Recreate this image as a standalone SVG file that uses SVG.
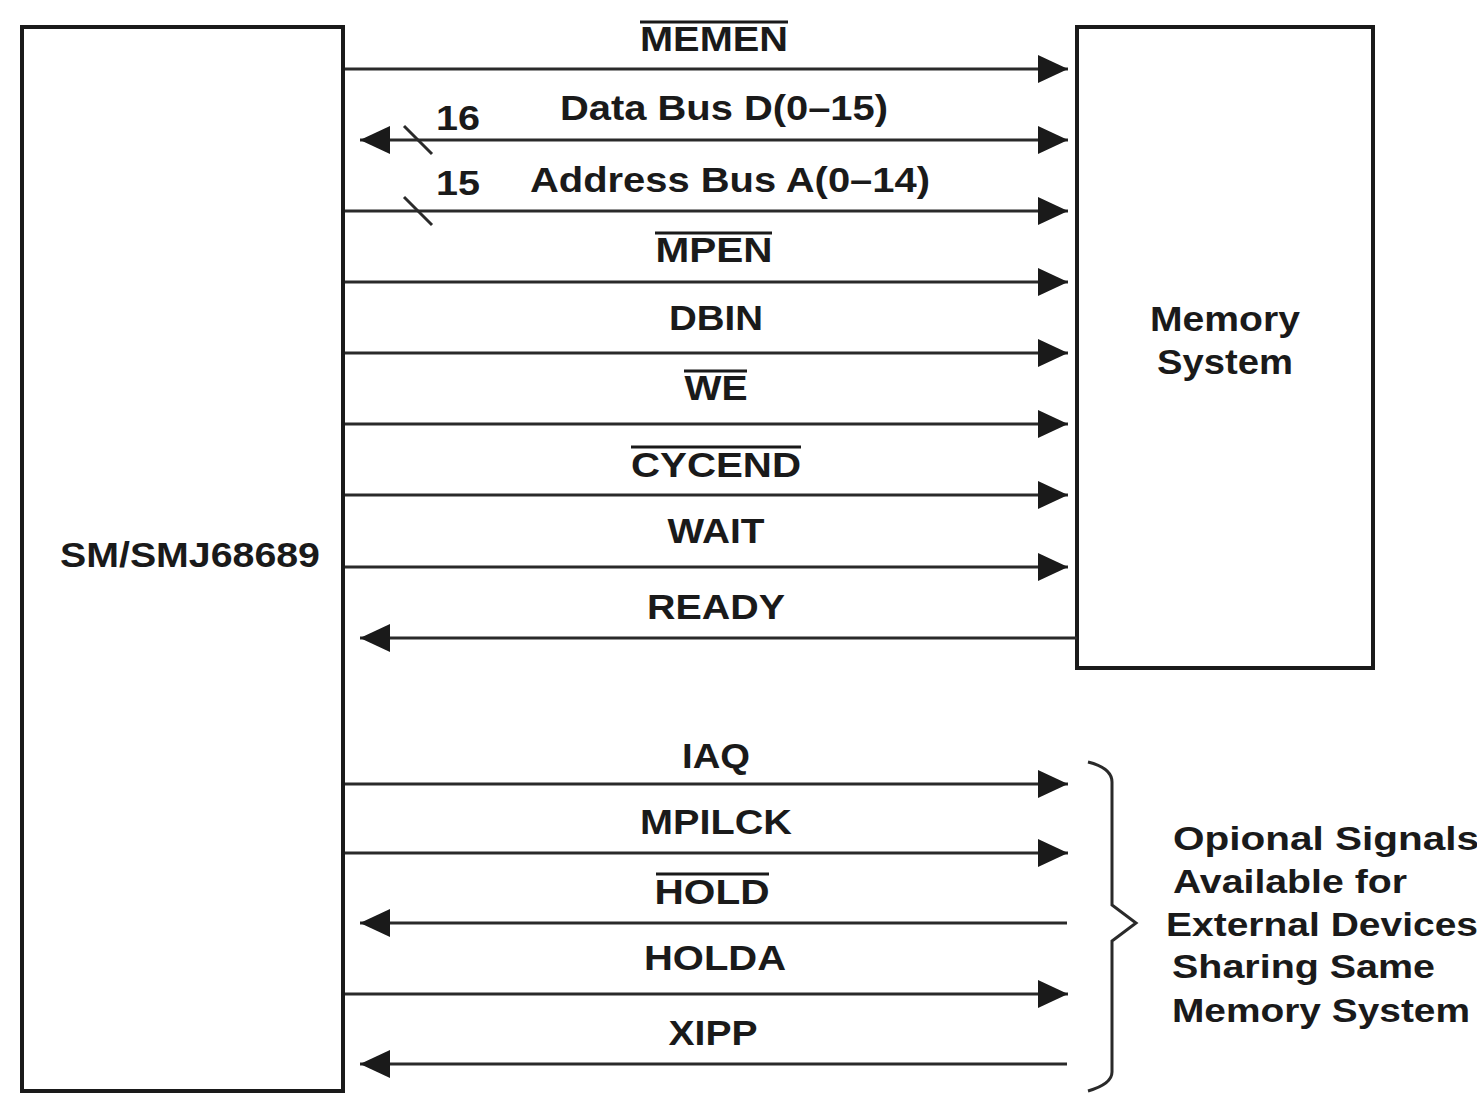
<svg xmlns="http://www.w3.org/2000/svg" width="1477" height="1093" viewBox="0 0 1477 1093">
<defs>
<marker id="arr" viewBox="0 0 30 30" markerWidth="30" markerHeight="30" refX="30" refY="15" orient="auto-start-reverse" markerUnits="userSpaceOnUse">
<path d="M0,1 L30,15 L0,29 z" fill="#1a1a1a"/>
</marker>
<style>
.box{fill:#fff;stroke:#1a1a1a;stroke-width:4}
.sig{stroke:#2a2a2a;stroke-width:3;fill:none}
.ob{stroke:#1a1a1a;stroke-width:3}
text{font-family:"Liberation Sans",Arial,sans-serif;font-weight:bold;fill:#1a1a1a}
.lbl{font-size:35px;text-anchor:middle}
.side{font-size:33px}
</style>
</defs>
<rect width="1477" height="1093" fill="#fff"/>
<g id="cpu">
<rect class="box" x="22" y="27" width="321" height="1064"/>
<text x="190" y="567" class="lbl" textLength="260" lengthAdjust="spacingAndGlyphs">SM/SMJ68689</text>
</g>
<g id="memory">
<rect class="box" x="1077" y="27" width="296" height="641"/>
<text x="1225" y="331" class="lbl" textLength="150" lengthAdjust="spacingAndGlyphs">Memory</text>
<text x="1225" y="374" class="lbl" textLength="136" lengthAdjust="spacingAndGlyphs">System</text>
</g>
<g id="connectors">
<line class="sig" x1="345" y1="69" x2="1068" y2="69" marker-end="url(#arr)"/>
<line class="sig" x1="360" y1="140" x2="1068" y2="140" marker-start="url(#arr)" marker-end="url(#arr)"/>
<line class="sig" x1="345" y1="211" x2="1068" y2="211" marker-end="url(#arr)"/>
<line class="sig" x1="345" y1="282" x2="1068" y2="282" marker-end="url(#arr)"/>
<line class="sig" x1="345" y1="353" x2="1068" y2="353" marker-end="url(#arr)"/>
<line class="sig" x1="345" y1="424" x2="1068" y2="424" marker-end="url(#arr)"/>
<line class="sig" x1="345" y1="495" x2="1068" y2="495" marker-end="url(#arr)"/>
<line class="sig" x1="345" y1="567" x2="1068" y2="567" marker-end="url(#arr)"/>
<line class="sig" x1="1077" y1="638" x2="360" y2="638" marker-end="url(#arr)"/>
<line class="sig" x1="345" y1="784" x2="1068" y2="784" marker-end="url(#arr)"/>
<line class="sig" x1="345" y1="853" x2="1068" y2="853" marker-end="url(#arr)"/>
<line class="sig" x1="1067" y1="923" x2="360" y2="923" marker-end="url(#arr)"/>
<line class="sig" x1="345" y1="994" x2="1068" y2="994" marker-end="url(#arr)"/>
<line class="sig" x1="1067" y1="1064" x2="360" y2="1064" marker-end="url(#arr)"/>
<line class="sig" x1="404" y1="126" x2="432" y2="154" stroke-width="2.5"/>
<line class="sig" x1="404" y1="197" x2="432" y2="225" stroke-width="2.5"/>
<path class="sig" d="M1088,762 Q1112,768 1112,782 L1112,905 L1136,923 L1112,941 L1112,1072 Q1112,1084 1088,1091"/>
</g>
<g id="labels">
<text x="714" y="51" class="lbl" textLength="148" lengthAdjust="spacingAndGlyphs">MEMEN</text>
<line class="ob" x1="640" y1="22" x2="788" y2="22"/>
<text x="458" y="130" class="lbl" textLength="44" lengthAdjust="spacingAndGlyphs">16</text>
<text x="724" y="120" class="lbl" textLength="328" lengthAdjust="spacingAndGlyphs">Data Bus D(0–15)</text>
<text x="458" y="195" class="lbl" textLength="44" lengthAdjust="spacingAndGlyphs">15</text>
<text x="730" y="192" class="lbl" textLength="400" lengthAdjust="spacingAndGlyphs">Address Bus A(0–14)</text>
<text x="714" y="262" class="lbl" textLength="117" lengthAdjust="spacingAndGlyphs">MPEN</text>
<line class="ob" x1="655" y1="233" x2="772" y2="233"/>
<text x="716" y="330" class="lbl" textLength="94" lengthAdjust="spacingAndGlyphs">DBIN</text>
<text x="716" y="400" class="lbl" textLength="63" lengthAdjust="spacingAndGlyphs">WE</text>
<line class="ob" x1="684" y1="371" x2="747" y2="371"/>
<text x="716" y="477" class="lbl" textLength="170" lengthAdjust="spacingAndGlyphs">CYCEND</text>
<line class="ob" x1="631" y1="447" x2="801" y2="447"/>
<text x="716" y="543" class="lbl" textLength="97" lengthAdjust="spacingAndGlyphs">WAIT</text>
<text x="716" y="619" class="lbl" textLength="138" lengthAdjust="spacingAndGlyphs">READY</text>
<text x="716" y="768" class="lbl" textLength="68" lengthAdjust="spacingAndGlyphs">IAQ</text>
<text x="716" y="834" class="lbl" textLength="152" lengthAdjust="spacingAndGlyphs">MPILCK</text>
<text x="712" y="904" class="lbl" textLength="115" lengthAdjust="spacingAndGlyphs">HOLD</text>
<line class="ob" x1="656" y1="874" x2="769" y2="874"/>
<text x="715" y="970" class="lbl" textLength="142" lengthAdjust="spacingAndGlyphs">HOLDA</text>
<text x="713" y="1045" class="lbl" textLength="89" lengthAdjust="spacingAndGlyphs">XIPP</text>
</g>
<g id="optional-note">
<text x="1173" y="850" class="side" textLength="306" lengthAdjust="spacingAndGlyphs">Opional Signals</text>
<text x="1173" y="893" class="side" textLength="234" lengthAdjust="spacingAndGlyphs">Available for</text>
<text x="1166" y="936" class="side" textLength="312" lengthAdjust="spacingAndGlyphs">External Devices</text>
<text x="1172" y="978" class="side" textLength="263" lengthAdjust="spacingAndGlyphs">Sharing Same</text>
<text x="1172" y="1022" class="side" textLength="298" lengthAdjust="spacingAndGlyphs">Memory System</text>
</g>
</svg>
